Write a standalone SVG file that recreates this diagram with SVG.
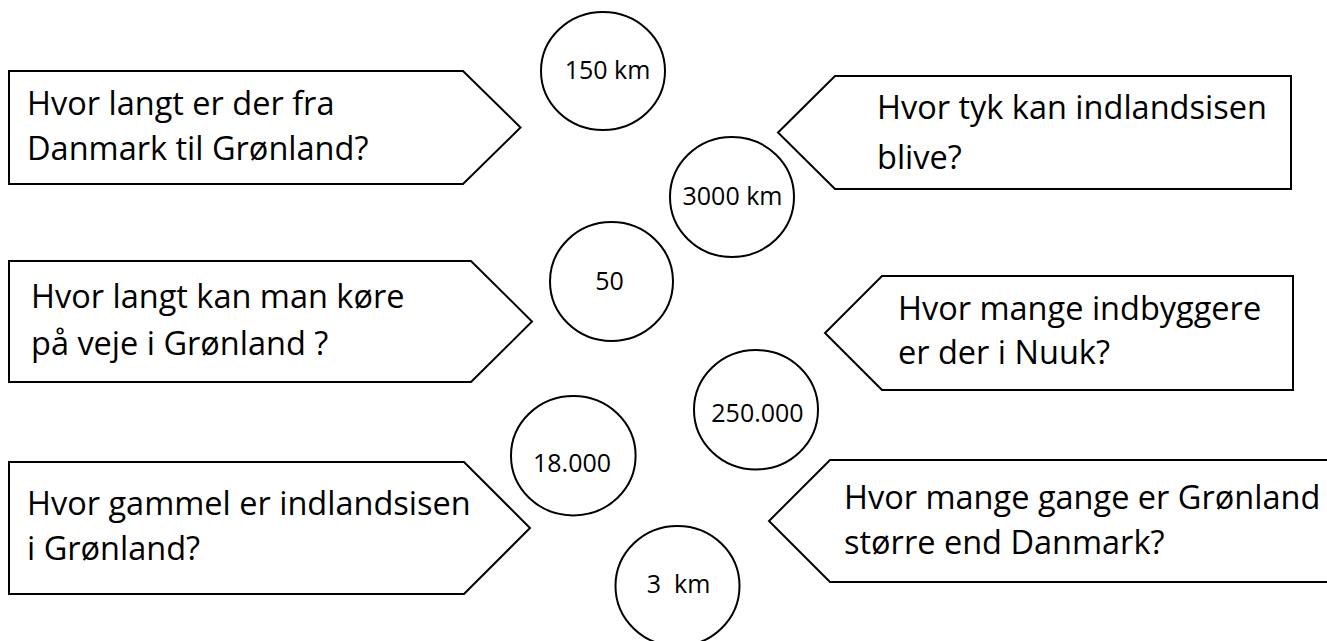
<svg xmlns="http://www.w3.org/2000/svg" width="1327" height="641" viewBox="0 0 1327 641">
<style>
.sh{fill:#fff;stroke:#000;stroke-width:2;stroke-linejoin:miter}
.q{font-family:"Open Sans","Noto Sans",sans-serif;font-size:32.5px;fill:#000}
.c{fill:#fff;stroke:#000;stroke-width:2}
.n{font-family:"Open Sans","Noto Sans",sans-serif;font-size:25px;fill:#000;text-anchor:middle}
</style>
<rect width="1327" height="641" fill="#fff"/>
<g id="connectors"/>
<g id="q1">
<polygon class="sh" points="9,71 463,71 520.5,127.5 463,184 9,184"/>
<text class="q" x="27" y="115">Hvor langt er der fra</text>
<text class="q" x="27" y="160">Danmark til Grønland?</text>
</g>
<g id="q2">
<polygon class="sh" points="1291,76 835,76 778,132.5 835,189 1291,189"/>
<text class="q" x="877" y="119">Hvor tyk kan indlandsisen</text>
<text class="q" x="877" y="169">blive?</text>
</g>
<g id="q3">
<polygon class="sh" points="9,261 471,261 532,321.5 471,382 9,382"/>
<text class="q" x="31" y="308">Hvor langt kan man køre</text>
<text class="q" x="31" y="355">på veje i Grønland ?</text>
</g>
<g id="q4">
<polygon class="sh" points="1293,276 882,276 825,333 882,390 1293,390"/>
<text class="q" x="898" y="320">Hvor mange indbyggere</text>
<text class="q" x="898" y="364">er der i Nuuk?</text>
</g>
<g id="q5">
<polygon class="sh" points="9,462 464,462 530,528 464,594 9,594"/>
<text class="q" x="27" y="515">Hvor gammel er indlandsisen</text>
<text class="q" x="27" y="560">i Grønland?</text>
</g>
<g id="q6">
<polygon class="sh" points="1340,460 830,460 769,521 830,582 1340,582"/>
<text class="q" x="844" y="509">Hvor mange gange er Grønland</text>
<text class="q" x="844" y="554">større end Danmark?</text>
</g>
<g id="a1">
<ellipse class="c" cx="603" cy="71" rx="62" ry="59"/>
<text class="n" x="607.5" y="78.5">150 km</text>
</g>
<g id="a2">
<ellipse class="c" cx="732" cy="197" rx="62" ry="60"/>
<text class="n" x="732.5" y="205">3000 km</text>
</g>
<g id="a3">
<ellipse class="c" cx="611.5" cy="281.5" rx="61.5" ry="59.5"/>
<text class="n" x="609.5" y="289.5">50</text>
</g>
<g id="a4">
<ellipse class="c" cx="756" cy="409.7" rx="62" ry="59.7"/>
<text class="n" x="757.5" y="422">250.000</text>
</g>
<g id="a5">
<ellipse class="c" cx="573.3" cy="455.7" rx="62.3" ry="59.7"/>
<text class="n" x="572" y="471.7">18.000</text>
</g>
<g id="a6">
<ellipse class="c" cx="677.5" cy="586" rx="62" ry="60"/>
<text class="n" x="678.5" y="592.7" xml:space="preserve">3  km</text>
</g>
</svg>
